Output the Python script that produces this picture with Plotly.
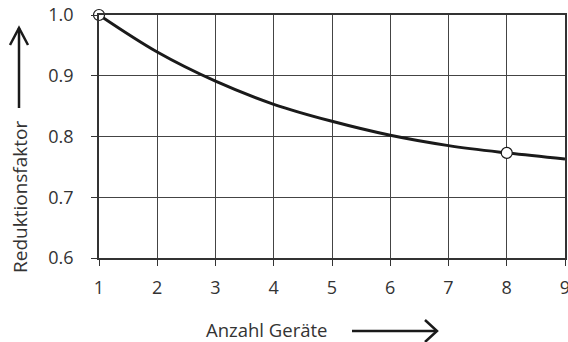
import plotly.graph_objects as go

# Reduction factor as a function of the number of devices
geraete = [1, 2, 3, 4, 5, 6, 7, 8, 9]
faktor = [1.0, 0.939, 0.891, 0.853, 0.825, 0.802, 0.785, 0.773, 0.763]

# Highlighted points on the curve
punkt_x = [1, 8]
punkt_y = [1.0, 0.773]

x_ticks = [1, 2, 3, 4, 5, 6, 7, 8, 9]
y_ticks = [0.6, 0.7, 0.8, 0.9, 1.0]
y_labels = ["0.6", "0.7", "0.8", "0.9", "1.0"]

W, H = 568, 342
ML, MR, MT, MB = 99, 3, 15, 84
PW, PH = W - ML - MR, H - MT - MB


def px(x):
    return (x - ML) / PW


def py(y):
    return (H - MB - y) / PH


FONT = "Open Sans"
TXT = "#333333"

fig = go.Figure()
fig.add_trace(go.Scatter(
    x=geraete, y=faktor, mode="lines",
    line=dict(color="#1a1a1a", width=3, shape="spline", smoothing=1.0),
    hoverinfo="skip", showlegend=False,
))
fig.add_trace(go.Scatter(
    x=punkt_x, y=punkt_y, mode="markers",
    marker=dict(size=11, color="white", line=dict(color="#1a1a1a", width=1.2)),
    cliponaxis=False, showlegend=False,
))

axis_common = dict(
    showgrid=True, gridcolor="#444444", gridwidth=1,
    showline=True, linecolor="#333333", linewidth=1.5, mirror=True,
    ticks="outside", ticklen=6, tickcolor="#333333", tickwidth=1,
    tickfont=dict(family=FONT, size=18, color=TXT),
    zeroline=False, fixedrange=True, automargin=False,
    ticklabeloverflow="allow",
)

fig.update_xaxes(range=[1, 9], tickvals=x_ticks, ticklabelstandoff=7, **axis_common)
fig.update_yaxes(range=[0.6, 1.0], tickvals=y_ticks, ticktext=y_labels,
                 ticklabelstandoff=14, **axis_common)

# Axis titles with direction arrows
arrow = dict(color="#1a1a1a", width=2.5)
shapes = [
    dict(type="path", xref="paper", yref="paper", line=arrow,
         path=f"M {px(19)} {py(108)} L {px(19)} {py(28)}"),
    dict(type="path", xref="paper", yref="paper", line=arrow,
         path=f"M {px(10)} {py(45)} L {px(19)} {py(28)} L {px(28)} {py(45)}"),
    dict(type="path", xref="paper", yref="paper", line=arrow,
         path=f"M {px(352)} {py(331)} L {px(436)} {py(331)}"),
    dict(type="path", xref="paper", yref="paper", line=arrow,
         path=f"M {px(425)} {py(320)} L {px(437)} {py(331)} L {px(425)} {py(342)}"),
]

annotations = [
    dict(text="Reduktionsfaktor", xref="paper", yref="paper",
         x=px(20), y=py(197), textangle=-90, showarrow=False,
         xanchor="center", yanchor="middle",
         font=dict(family=FONT, size=19, color=TXT)),
    dict(text="Anzahl Geräte", xref="paper", yref="paper",
         x=px(266), y=py(329.5), showarrow=False,
         xanchor="center", yanchor="middle",
         font=dict(family=FONT, size=18.5, color=TXT)),
]

fig.update_layout(
    width=W, height=H,
    margin=dict(l=ML, r=MR, t=MT, b=MB, pad=0),
    paper_bgcolor="white", plot_bgcolor="white",
    shapes=shapes, annotations=annotations,
    showlegend=False,
)

fig.write_html("out.html", config={"displayModeBar": False})
